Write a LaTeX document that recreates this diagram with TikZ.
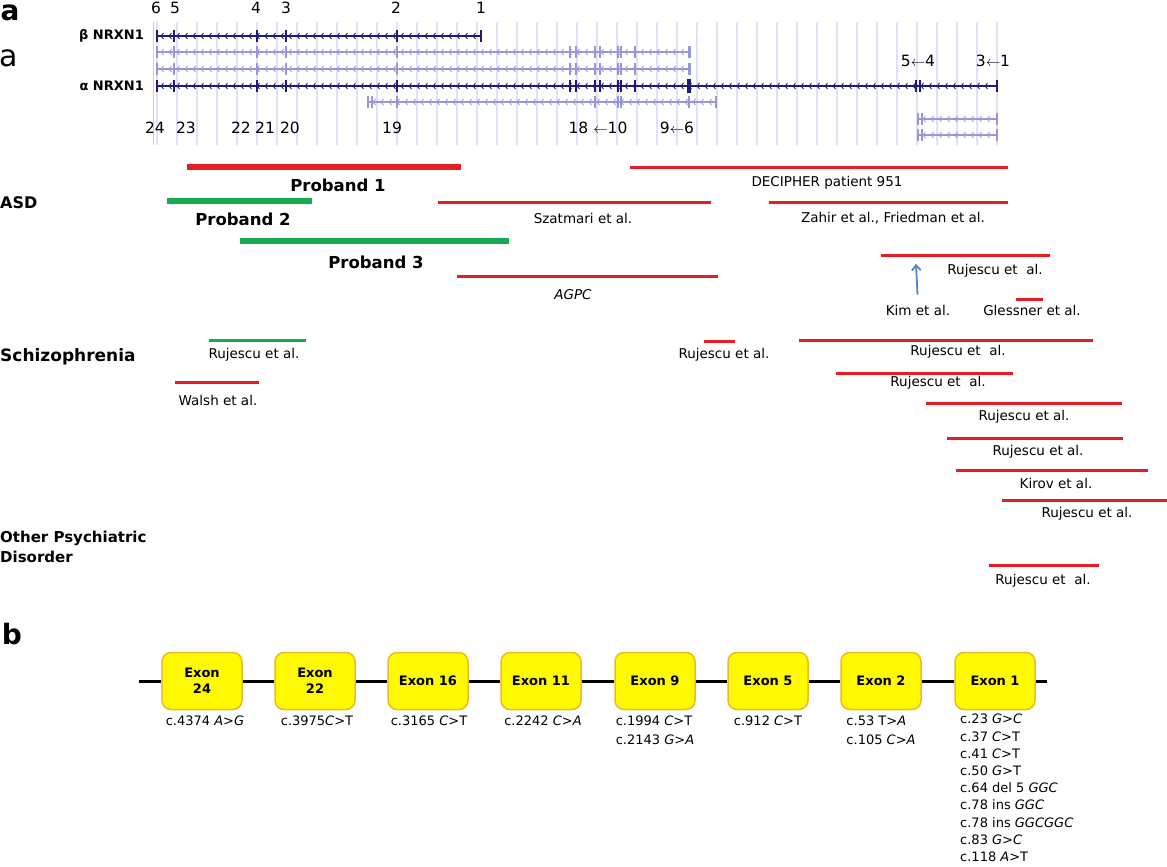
\documentclass[tikz,border=0pt]{standalone}
\usepackage{fontspec}
\setmainfont{DejaVu Sans}
\usetikzlibrary{arrows.meta}

\definecolor{cnvred}{RGB}{232,28,36}
\definecolor{cnvgreen}{RGB}{22,170,82}
\definecolor{exonnavy}{RGB}{28,28,120}
\definecolor{isolight}{RGB}{150,150,218}
\definecolor{gridlav}{RGB}{224,224,246}
\definecolor{exonfill}{RGB}{255,250,0}
\definecolor{exonedge}{RGB}{236,186,40}
\definecolor{kimblue}{RGB}{84,132,200}

\tikzset{
  thickbar/.style={line width=6pt},
  thinbar/.style={line width=3pt},
  ref/.style={font=\fontsize{13.5}{15}\selectfont, inner sep=0pt},
  proband/.style={font=\bfseries\fontsize{16.5}{18}\selectfont, inner sep=0pt},
  disorder/.style={font=\bfseries\fontsize{17}{20}\selectfont, anchor=west, inner sep=0pt, align=left},
  exnum/.style={font=\fontsize{15.5}{17}\selectfont, inner sep=0pt},
  isolabel/.style={font=\bfseries\fontsize{13}{14}\selectfont, anchor=east, inner sep=0pt},
  panel/.style={font=\bfseries\fontsize{28}{28}\selectfont, inner sep=0pt},
  exonbox/.style={draw=exonedge, fill=exonfill, line width=1.5pt, rounded corners=9pt,
    minimum width=80pt, minimum height=57pt, align=center,
    font=\bfseries\fontsize{13}{16}\selectfont},
  mut/.style={anchor=north, inner sep=0pt, align=left, font=\fontsize{13}{17.2}\selectfont}
}

% one transcript: line with intron chevrons
\newcommand{\isoform}[4]{%
  \draw[#4, line width=1.2pt] (#2,#1) -- (#3,#1);
  \pgfmathsetmacro\chA{#2+5}\pgfmathsetmacro\chB{#2+13}\pgfmathsetmacro\chZ{#3-5}
  \foreach \cx in {\chA,\chB,...,\chZ}
    \draw[#4, line width=0.8pt] (\cx+2.5,#1-3) -- (\cx,#1) -- (\cx+2.5,#1+3);
}

\begin{document}
\begin{tikzpicture}[x=1pt, y=-1pt]
\useasboundingbox (0,0) rectangle (1167,867);

% Panel labels
\node[panel] (pa) at (10,13) {a};
\node[panel, font=\fontsize{30}{30}\selectfont] (pa2) at (9,58) {a};
\node[panel] (pb) at (12,634) {b};

% Grid lines
\foreach \gx in {157,177,...,1000}
  \draw[gridlav, line width=1.2pt] (\gx,22) -- (\gx,145);
\draw[cnvred!30, line width=0.8pt] (153,22) -- (153,145);

% Transcripts
\isoform{36}{156}{482}{exonnavy}
\isoform{52}{156}{689}{isolight}
\isoform{69}{156}{689}{isolight}
\isoform{86}{156}{997}{exonnavy}
\isoform{102}{368}{716}{isolight}
\isoform{119}{918}{998}{isolight}
\isoform{135}{918}{998}{isolight}

% Exon ticks
\foreach \tx in {157,174,257,286,397,481}
  \draw[exonnavy, line width=1.6pt] (\tx,30) -- (\tx,42);
\foreach \ty in {52,69}
  \foreach \tx in {157,174,257,286,397,570,576,595,600,618,621,635}
    \draw[isolight, line width=1.6pt] (\tx,\ty-6) -- (\tx,\ty+6);
\foreach \ty in {52,69}
  \draw[isolight, line width=3pt] (689,\ty-6) -- (689,\ty+6);
\foreach \tx in {157,174,257,286,397,570,576,595,600,618,621,635,916,920,997}
  \draw[exonnavy, line width=1.6pt] (\tx,80) -- (\tx,92);
\draw[exonnavy, line width=3.5pt] (689,79) -- (689,93);
\foreach \tx in {368,372,397,595,618,621,689,716}
  \draw[isolight, line width=1.6pt] (\tx,96) -- (\tx,108);
\foreach \ty in {119,135}
  \foreach \tx in {918,922,997}
    \draw[isolight, line width=1.6pt] (\tx,\ty-6) -- (\tx,\ty+6);

% Transcript names and exon numbers
\node[isolabel] (beta) at (144,36) {β NRXN1};
\node[isolabel] (alpha) at (144,86) {α NRXN1};
\node[exnum] (b6) at (156,8) {6};
\node[exnum] (b5) at (175,8) {5};
\node[exnum] (b4) at (256,8) {4};
\node[exnum] (b3) at (286,8) {3};
\node[exnum] (b2) at (396,8) {2};
\node[exnum] (b1) at (481,8) {1};
\node[exnum] (a54) at (918,61) {5$\leftarrow$4};
\node[exnum] (a31) at (993,61) {3$\leftarrow$1};
\node[exnum] (a24) at (155,128) {24};
\node[exnum] (a23) at (186,128) {23};
\node[exnum] (a22) at (241,128) {22};
\node[exnum] (a21) at (265,128) {21};
\node[exnum] (a20) at (290,128) {20};
\node[exnum] (a19) at (392,128) {19};
\node[exnum] (a18) at (598,128) {18 $\leftarrow$10};
\node[exnum] (a9) at (677,128) {9$\leftarrow$6};

% Disorders
\node[disorder, font=\bfseries\fontsize{16}{20}\selectfont] (asd) at (0,203) {ASD};
\node[disorder] (scz) at (0,357) {Schizophrenia};
\node[disorder, font=\bfseries\fontsize{15}{20}\selectfont] (other) at (0,547) {Other Psychiatric\\Disorder};

% ASD deletions
\draw[cnvred, thickbar] (187,167) -- (461,167);
\node[proband] (p1) at (338,185) {Proband 1};
\draw[cnvgreen, thickbar] (167,201) -- (312,201);
\node[proband] (p2) at (243,219) {Proband 2};
\draw[cnvgreen, thickbar] (240,241) -- (509,241);
\node[proband] (p3) at (376,262) {Proband 3};
\draw[cnvred, thinbar] (630,167) -- (1008,167);
\node[ref] (decipher) at (827,183) {DECIPHER patient 951};
\draw[cnvred, thinbar] (438,202) -- (711,202);
\node[ref] (szatmari) at (583,218) {Szatmari et al.};
\draw[cnvred, thinbar] (769,202) -- (1008,202);
\node[ref] (zahir) at (893,218) {Zahir et al., Friedman et al.};
\draw[cnvred, thinbar] (457,276) -- (718,276);
\node[ref, font=\itshape\fontsize{13.5}{15}\selectfont] (agpc) at (573,295) {AGPC};
\draw[cnvred, thinbar] (881,255) -- (1050,255);
\node[ref] (rujA) at (995,271) {Rujescu et\ \ al.};
\node[ref] (kim) at (918,310) {Kim et al.};
\coordinate (kimtip) at (916,264);
\draw[kimblue, line width=1.8pt, -{Straight Barb[length=5pt,width=9pt]}, shorten <=10pt] (kim.north) -- (kimtip);
\draw[cnvred, thinbar] (1016,299) -- (1043,299);
\node[ref] (glessner) at (1032,310) {Glessner et al.};

% Schizophrenia deletions
\draw[cnvgreen, thinbar] (209,340) -- (306,340);
\node[ref] (rujB) at (254,355) {Rujescu et al.};
\draw[cnvred, thinbar] (175,382) -- (259,382);
\node[ref] (walsh) at (218,400) {Walsh et al.};
\draw[cnvred, thinbar] (704,341) -- (735,341);
\node[ref] (rujC) at (724,355) {Rujescu et al.};
\draw[cnvred, thinbar] (799,340) -- (1093,340);
\node[ref] (rujD) at (958,352) {Rujescu et\ \ al.};
\draw[cnvred, thinbar] (836,373) -- (1013,373);
\node[ref] (rujE) at (938,383) {Rujescu et\ \ al.};
\draw[cnvred, thinbar] (926,403) -- (1122,403);
\node[ref] (rujF) at (1024,417) {Rujescu et al.};
\draw[cnvred, thinbar] (947,438) -- (1123,438);
\node[ref] (rujG) at (1038,452) {Rujescu et al.};
\draw[cnvred, thinbar] (956,470) -- (1148,470);
\node[ref] (kirov) at (1056,483) {Kirov et al.};
\draw[cnvred, thinbar] (1002,500) -- (1167,500);
\node[ref] (rujH) at (1087,514) {Rujescu et al.};

% Other psychiatric disorder
\draw[cnvred, thinbar] (989,565) -- (1099,565);
\node[ref] (rujI) at (1043,581) {Rujescu et\ \ al.};

% Exons of panel b
\coordinate (bbL) at (139,681);
\coordinate (bbR) at (1047,681);
\node[exonbox] (e24) at (202,681) {Exon\\24};
\node[exonbox] (e22) at (315,681) {Exon\\22};
\node[exonbox] (e16) at (428,681) {Exon 16};
\node[exonbox] (e11) at (541,681) {Exon 11};
\node[exonbox] (e9) at (655,681) {Exon 9};
\node[exonbox] (e5) at (768,681) {Exon 5};
\node[exonbox] (e2) at (881,681) {Exon 2};
\node[exonbox] (e1) at (995,681) {Exon 1};
\draw[line width=3pt] (bbL) -- (e24) -- (e22) -- (e16) -- (e11) -- (e9) -- (e5) -- (e2) -- (e1) -- (bbR);

% Mutations
\node[mut] (m24) at (205,716) {c.4374 \textit{A>G}};
\node[mut] (m22) at (317,716) {c.3975\textit{C>}T};
\node[mut] (m16) at (429,716) {c.3165 \textit{C>}T};
\node[mut] (m11) at (543,716) {c.2242 \textit{C>A}};
\node[mut, font=\fontsize{13}{19}\selectfont] (m9) at (655,716) {c.1994 \textit{C>}T\\c.2143 \textit{G>A}};
\node[mut] (m5) at (768,716) {c.912 \textit{C>}T};
\node[mut, font=\fontsize{13}{19}\selectfont] (m2) at (881,716) {c.53 T\textit{>A}\\c.105 \textit{C>A}};
\node[mut, anchor=north west] (m1) at (960,714) {c.23 \textit{G>C}\\c.37 \textit{C>}T\\c.41 \textit{C>}T\\c.50 \textit{G>}T\\c.64 del 5 \textit{GGC}\\c.78 ins \textit{GGC}\\c.78 ins \textit{GGCGGC}\\c.83 \textit{G>C}\\c.118 \textit{A>}T};

\end{tikzpicture}
\end{document}
